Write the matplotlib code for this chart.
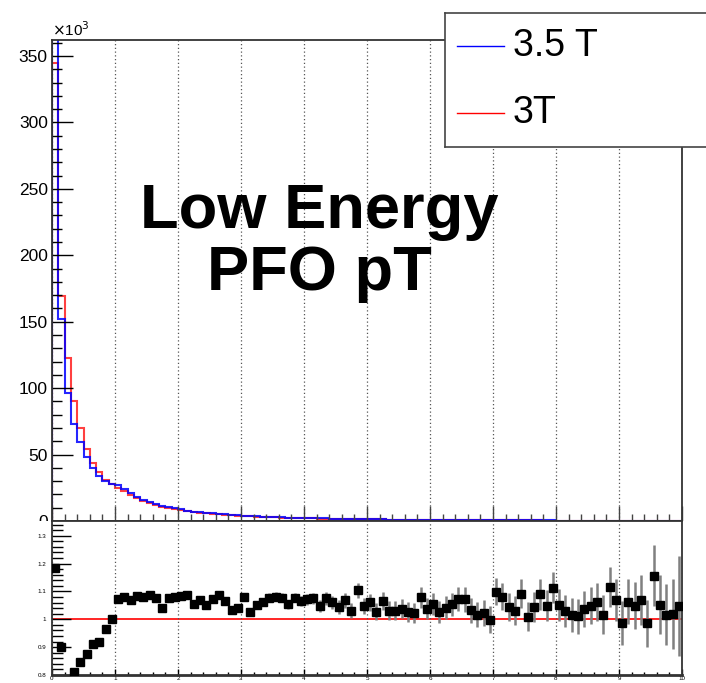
import numpy as np
import matplotlib.pyplot as plt
from matplotlib.patches import Rectangle

plt.rcParams['font.family'] = ['Liberation Sans', 'DejaVu Sans']

## Binning: 100 bins of pT from 0 to 10
x_lo, x_hi, n_bins = 0.0, 10.0, 100

## Entries per bin (x10^3)
counts_3T = [
    345, 169.7, 123, 90.5, 69.9, 54.5, 43.5, 37, 31, 28,
    25, 22.4, 19.6, 17, 14.8, 13.2, 11.9, 10.7, 9.7, 8.8,
    8.0, 7.3, 6.7, 6.2, 5.7, 5.3, 4.9, 4.6, 4.3, 4.0,
    3.75, 3.5, 3.3, 3.1, 2.9, 2.75, 2.6, 2.45, 2.3, 2.2,
    2.08, 1.97, 1.87, 1.77, 1.68, 1.6, 1.52, 1.45, 1.38, 1.31,
    1.25, 1.19, 1.13, 1.08, 1.03, 0.98, 0.94, 0.9, 0.86, 0.82,
    0.78, 0.75, 0.72, 0.69, 0.66, 0.63, 0.6, 0.58, 0.55, 0.53,
    0.51, 0.49, 0.47, 0.45, 0.43, 0.41, 0.40, 0.38, 0.37, 0.35,
    0.34, 0.33, 0.31, 0.30, 0.29, 0.28, 0.27, 0.26, 0.25, 0.24,
    0.23, 0.22, 0.21, 0.20, 0.20, 0.19, 0.18, 0.17, 0.17, 0.16,
]
counts_35T = [
    409, 152, 96, 73.3, 59.3, 47.8, 39.7, 34.0, 29.9, 28.0,
    26.8, 24.2, 21.0, 18.4, 16.0, 14.3, 12.8, 11.1, 10.5, 9.5,
    8.7, 7.9, 7.1, 6.6, 6.0, 5.7, 5.3, 4.9, 4.4, 4.2,
    4.05, 3.6, 3.47, 3.3, 3.13, 2.97, 2.8, 2.58, 2.48, 2.35,
    2.23, 2.12, 1.96, 1.9, 1.78, 1.67, 1.62, 1.5, 1.52, 1.37,
    1.33, 1.22, 1.2, 1.11, 1.06, 1.02, 0.97, 0.92, 0.93, 0.85,
    0.82, 0.77, 0.75, 0.73, 0.71, 0.68, 0.62, 0.59, 0.56, 0.53,
    0.56, 0.53, 0.49, 0.46, 0.47, 0.41, 0.42, 0.41, 0.39, 0.39,
    0.36, 0.34, 0.31, 0.30, 0.30, 0.29, 0.29, 0.26, 0.28, 0.26,
    0.23, 0.23, 0.22, 0.21, 0.20, 0.22, 0.19, 0.17, 0.17, 0.17,
]

## Ratio 3.5 T / 3T per bin
ratio = [
    1.185, 0.902, 0.78, 0.81, 0.848, 0.877, 0.912, 0.919, 0.965, 1.0,
    1.073, 1.079, 1.069, 1.084, 1.079, 1.087, 1.076, 1.041, 1.078, 1.081,
    1.084, 1.087, 1.054, 1.070, 1.051, 1.072, 1.088, 1.067, 1.033, 1.041,
    1.081, 1.027, 1.051, 1.063, 1.078, 1.081, 1.078, 1.054, 1.078, 1.067,
    1.072, 1.075, 1.049, 1.075, 1.061, 1.045, 1.068, 1.031, 1.104, 1.049,
    1.061, 1.027, 1.066, 1.031, 1.031, 1.038, 1.027, 1.022, 1.079, 1.038,
    1.054, 1.025, 1.042, 1.054, 1.072, 1.072, 1.033, 1.016, 1.022, 0.999,
    1.099, 1.081, 1.045, 1.031, 1.092, 1.010, 1.045, 1.090, 1.049, 1.114,
    1.051, 1.030, 1.016, 1.011, 1.037, 1.049, 1.063, 1.016, 1.117, 1.068,
    0.986, 1.063, 1.049, 1.068, 0.986, 1.157, 1.053, 1.016, 1.018, 1.047,
]
ratio_err = [
    0.004, 0.004, 0.004, 0.004, 0.004, 0.004, 0.004, 0.004, 0.004, 0.004,
    0.005, 0.005, 0.005, 0.005, 0.005, 0.005, 0.005, 0.005, 0.006, 0.006,
    0.008, 0.008, 0.008, 0.009, 0.009, 0.010, 0.010, 0.010, 0.011, 0.011,
    0.013, 0.013, 0.014, 0.014, 0.015, 0.016, 0.016, 0.017, 0.017, 0.018,
    0.020, 0.021, 0.022, 0.023, 0.024, 0.025, 0.026, 0.027, 0.028, 0.029,
    0.030, 0.031, 0.032, 0.033, 0.034, 0.035, 0.036, 0.037, 0.038, 0.038,
    0.039, 0.040, 0.041, 0.042, 0.043, 0.044, 0.045, 0.045, 0.046, 0.047,
    0.048, 0.049, 0.050, 0.051, 0.052, 0.053, 0.054, 0.055, 0.056, 0.057,
    0.058, 0.059, 0.060, 0.062, 0.064, 0.066, 0.068, 0.070, 0.072, 0.075,
    0.080, 0.080, 0.085, 0.090, 0.085, 0.110, 0.105, 0.110, 0.125, 0.180,
]

edges = np.linspace(x_lo, x_hi, n_bins + 1)
centers = 0.5 * (edges[:-1] + edges[1:])

W, H = 706, 683
fig = plt.figure(figsize=(W / 100, H / 100), dpi=100)

left, right = 52 / W, 682 / W
y_split = 1 - 521 / H
y_top = 1 - 40 / H
y_bot = 1 - 675 / H

grid_style = dict(linestyle=(0, (1, 2)), color='#555555', linewidth=0.9)
spine_col = '#333333'

# --- Top pad: pT spectra ---
ax1 = fig.add_axes([left, y_split, right - left, y_top - y_split])
ax1.set_zorder(0)
ax1.stairs(counts_3T, edges, color='red', alpha=0.75, linewidth=1.5)
ax1.stairs(counts_35T, edges, color='blue', alpha=0.85, linewidth=1.5)
ax1.set_xlim(x_lo, x_hi)
ax1.set_ylim(0, 362)
ax1.set_yticks(np.arange(0, 351, 50))
ax1.set_yticks(np.arange(0, 362, 10), minor=True)
ax1.set_xticks(np.arange(0, 11, 1))
ax1.set_xticks(np.arange(0, 10.01, 0.2), minor=True)
ax1.tick_params(axis='y', which='major', direction='in', length=15, width=1,
                labelsize=12.5, pad=3)
ax1.tick_params(axis='y', which='minor', direction='in', length=7.5, width=1)
ax1.tick_params(axis='x', which='major', direction='in', length=10.5, width=1,
                labelbottom=False, color='#444444')
ax1.tick_params(axis='x', which='minor', direction='in', length=5, width=1,
                color='#444444')
ax1.grid(axis='x', which='major', **grid_style)
for s in ax1.spines.values():
    s.set_color(spine_col)
    s.set_linewidth(1.3)
ax1.text(0.0, 1.003, r'$\times$10$^3$', transform=ax1.transAxes,
         ha='left', va='bottom', fontsize=11)

fig.text(319 / W, 1 - 228 / H, 'Low Energy', ha='center', va='baseline',
         fontsize=45.5, fontweight='bold')
fig.text(319 / W, 1 - 290 / H, 'PFO pT', ha='center', va='baseline',
         fontsize=45.5, fontweight='bold')

# lower pad background hides the bottom half of the top "0" label
fig.add_artist(Rectangle((0, 0), 1, y_split, transform=fig.transFigure,
                         facecolor='white', edgecolor='none', zorder=1))

# --- Bottom pad: ratio ---
ax2 = fig.add_axes([left, y_bot, right - left, y_split - y_bot])
ax2.set_zorder(2)
ax2.axhline(1.0, color='red', linewidth=1.2, zorder=1)
ax2.errorbar(centers, ratio, yerr=ratio_err, fmt='s', color='black',
             markersize=5.6, ecolor='#808080', elinewidth=1.8, capsize=0,
             zorder=3)
ax2.set_xlim(x_lo, x_hi)
ax2.set_ylim(0.8, 1.353)
ax2.set_yticks([0.8, 0.9, 1.0, 1.1, 1.2, 1.3])
ax2.set_yticklabels(['0.8', '0.9', '1', '1.1', '1.2', '1.3'])
ax2.set_yticks(np.arange(0.8, 1.353, 0.02), minor=True)
ax2.set_xticks(np.arange(0, 11, 1))
ax2.set_xticklabels([str(i) for i in range(11)])
ax2.set_xticks(np.arange(0, 10.01, 0.2), minor=True)
ax2.tick_params(axis='y', which='major', direction='in', length=14, width=1,
                labelsize=4.5, pad=4)
ax2.tick_params(axis='y', which='minor', direction='in', length=8, width=1)
ax2.tick_params(axis='x', which='major', direction='in', length=4, width=1,
                labelsize=4.5, pad=1)
ax2.tick_params(axis='x', which='minor', direction='in', length=2.5, width=1)
ax2.grid(axis='x', which='major', **grid_style)
for s in ax2.spines.values():
    s.set_color(spine_col)
    s.set_linewidth(1.3)
ax2.spines['bottom'].set_linewidth(2)

# --- Legend box ---
lx0, ly0, lx1, ly1 = 445, 13, 760, 147
lax = fig.add_axes([lx0 / W, 1 - ly1 / H, (lx1 - lx0) / W, (ly1 - ly0) / H])
lax.set_zorder(3)
lax.set_xlim(0, lx1 - lx0)
lax.set_ylim(0, ly1 - ly0)
lax.set_xticks([])
lax.set_yticks([])
for s in lax.spines.values():
    s.set_color('#444444')
    s.set_linewidth(1.2)
labels = ['3.5 T', '3T']
colors = ['blue', 'red']
rows_y = [101, 34]
for lab, col, yy in zip(labels, colors, rows_y):
    lax.plot([12, 59], [yy, yy], color=col, linewidth=1)
    lax.text(68, yy, lab, ha='left', va='center', fontsize=27)

plt.savefig('out.png', dpi=100)
